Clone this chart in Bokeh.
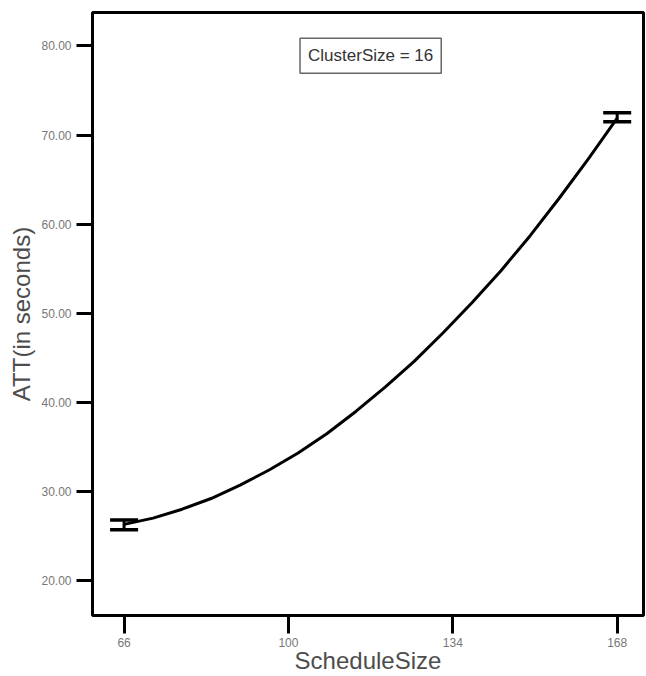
from bokeh.plotting import figure
from bokeh.models import (ColumnDataSource, Whisker, TeeHead, Label, FixedTicker,
                          PrintfTickFormatter, Range1d)
from bokeh.embed import file_html
from bokeh.resources import INLINE

# ---- data ----
schedule_size = [66, 168]
att_mean = [26.3, 72.0]
att_lower = [25.7, 71.5]
att_upper = [26.8, 72.5]

curve_x = [66, 72, 78, 84, 90, 96, 102, 108, 114, 120, 126, 132, 138, 144, 150, 156, 162, 168]
curve_y = [26.3, 27.0, 28.0, 29.2, 30.7, 32.4, 34.3, 36.5, 39.0, 41.7,
           44.6, 47.8, 51.2, 54.8, 58.7, 62.9, 67.3, 71.9]

x_ticks = [66, 100, 134, 168]
y_ticks = [20, 30, 40, 50, 60, 70, 80]

annotation_text = "ClusterSize = 16"
x_label = "ScheduleSize"
y_label = "ATT(in seconds)"

FONT = "Liberation Sans"

p = figure(width=646, height=676, output_backend="svg", toolbar_location=None,
           x_range=Range1d(59.47, 173.44), y_range=Range1d(16.07, 83.75),
           min_border_left=92, min_border_right=3, min_border_top=12, min_border_bottom=61)
p.grid.visible = False
p.background_fill_color = "white"
p.border_fill_color = "white"
p.outline_line_color = "black"
p.outline_line_width = 3

# curve
p.line(curve_x, curve_y, line_color="black", line_width=3, line_join="round")

# error bars
src = ColumnDataSource(dict(x=schedule_size, lower=att_lower, upper=att_upper, mean=att_mean))
w = Whisker(source=src, base="x", upper="upper", lower="lower", dimension="height",
            line_color="black", line_width=3,
            upper_head=TeeHead(size=28, line_width=3.5, line_color="black"),
            lower_head=TeeHead(size=28, line_width=3.5, line_color="black"))
p.add_layout(w)

# axes
p.xaxis.ticker = FixedTicker(ticks=x_ticks)
p.yaxis.ticker = FixedTicker(ticks=y_ticks)
p.yaxis.formatter = PrintfTickFormatter(format="%.2f")
for ax in (p.xaxis[0], p.yaxis[0]):
    ax.axis_line_color = None
    ax.major_tick_line_color = "black"
    ax.major_tick_line_width = 3
    ax.major_tick_in = 0
    ax.minor_tick_line_color = None
    ax.major_label_text_font = FONT
    ax.major_label_text_font_size = "12px"
    ax.major_label_text_color = "#777777"
    ax.axis_label_text_font = FONT
    ax.axis_label_text_font_size = "24px"
    ax.axis_label_text_font_style = "normal"
    ax.axis_label_text_color = "#4d4d4d"
p.xaxis.major_tick_out = 18
p.yaxis.major_tick_out = 16
p.xaxis.major_label_standoff = 4
p.yaxis.major_label_standoff = 5

p.yaxis.axis_label = y_label
p.yaxis.axis_label_standoff = 3
p.xaxis.axis_label = x_label
p.xaxis.axis_label_standoff = -3

# annotation box
p.add_layout(Label(x=117, y=78.9, text=annotation_text, text_font=FONT,
                   text_font_size="17px", text_color="#333333",
                   text_align="center", text_baseline="middle",
                   border_line_color="#666666", border_line_width=1.5,
                   background_fill_color="white", padding=8))

open("out.html", "w").write(file_html(p, INLINE))
